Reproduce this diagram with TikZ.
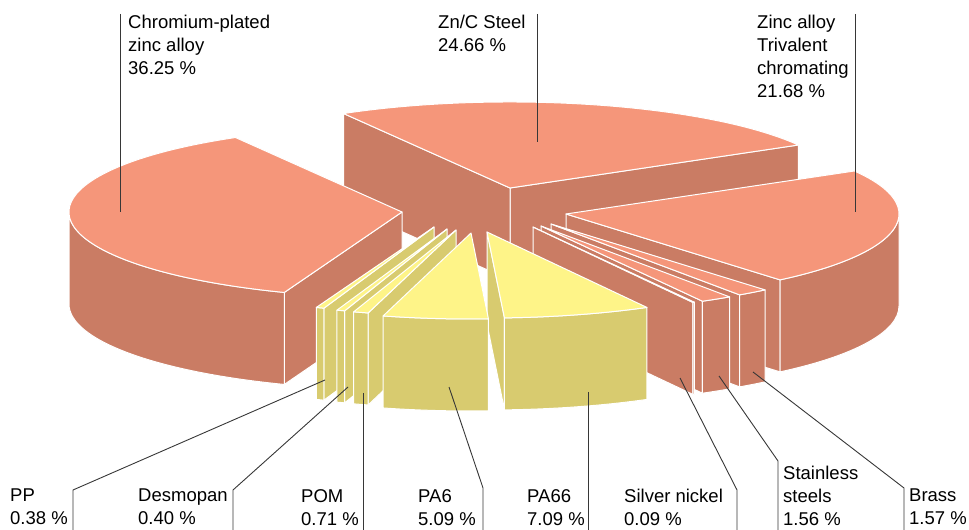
\documentclass[tikz,border=0pt]{standalone}
\usepackage{fontspec}
\setmainfont{Liberation Sans}
\usepackage{tikz}
\definecolor{salmontop}{RGB}{245,150,122}
\definecolor{salmonside}{RGB}{202,124,100}
\definecolor{yellowtop}{RGB}{254,244,136}
\definecolor{yellowside}{RGB}{216,203,111}
\definecolor{leadergray}{RGB}{55,55,55}
\tikzset{
  face/.style={draw=white, line width=1pt, line join=round},
  leader/.style={draw=leadergray, line width=0.9pt},
  label/.style={anchor=north west, inner sep=0pt, align=left,
    font=\fontsize{18.5}{23}\selectfont},
}
% one exploded slice: apex, start angle, end angle, top colour, side colour
\newcommand\pieslice[5]{%
  \pgfmathsetmacro\sa{max(#2,180)}%
  \pgfmathsetmacro\ea{min(#3,360)}%
  \pgfmathsetmacro\ba{#2+180}%
  \pgfmathsetmacro\bb{#3+180}%
  \pgfmathtruncatemacro\showstart{cos(#2)>0}%
  \pgfmathtruncatemacro\showend{cos(#3)<0}%
  \pgfmathtruncatemacro\showouter{\sa<\ea}%
  \ifnum\showstart=1
    \filldraw[face, fill=#5] (#1) -- ++(#2:333 and 86) -- ++(0,-92) -- ++(\ba:333 and 86) -- cycle;
  \fi
  \ifnum\showend=1
    \filldraw[face, fill=#5] (#1) -- ++(#3:333 and 86) -- ++(0,-92) -- ++(\bb:333 and 86) -- cycle;
  \fi
  \ifnum\showouter=1
    \filldraw[face, fill=#5] (#1) ++(\sa:333 and 86)
      arc[start angle=\sa, end angle=\ea, x radius=333, y radius=86] -- ++(0,-92)
      arc[start angle=\ea, end angle=\sa, x radius=333, y radius=86] -- cycle;
  \fi
  \filldraw[face, fill=#4] (#1) -- ++(#2:333 and 86)
    arc[start angle=#2, end angle=#3, x radius=333, y radius=86] -- cycle;
}

\begin{document}
\begin{tikzpicture}[x=1pt,y=1pt]
  \useasboundingbox (0,0) rectangle (969,530);
  \clip (0,0) rectangle (969,530);
  % apex of every slice
  \coordinate (znc) at (510,342);
  \coordinate (chrom) at (402,318);
  \coordinate (zinc) at (566,316);
  \coordinate (brass) at (551,306);
  \coordinate (stainless) at (541,304);
  \coordinate (silver) at (533,303);
  \coordinate (pa66) at (487,298);
  \coordinate (pa6) at (471,297);
  \coordinate (pom) at (456,300);
  \coordinate (desmo) at (447,301);
  \coordinate (pp) at (434,303);

  \pieslice{znc}{30}{120}{salmontop}{salmonside}
  \pieslice{chrom}{120}{249.3}{salmontop}{salmonside}
  \pieslice{zinc}{310}{390}{salmontop}{salmonside}
  \pieslice{brass}{304.5}{310}{salmontop}{salmonside}
  \pieslice{stainless}{299}{304.5}{salmontop}{salmonside}
  \pieslice{silver}{298.7}{299}{salmontop}{salmonside}
  \pieslice{pa66}{273}{298.7}{yellowtop}{yellowside}
  \pieslice{pp}{249.3}{250.7}{yellowtop}{yellowside}
  \pieslice{desmo}{250.7}{252.1}{yellowtop}{yellowside}
  \pieslice{pom}{252.1}{254.7}{yellowtop}{yellowside}
  \pieslice{pa6}{254.7}{273}{yellowtop}{yellowside}

  % labels
  \node[label] (chrom-lab) at (128,515.5) {Chromium-plated\\zinc alloy\\36.25 \%};
  \node[label] (znc-lab) at (438,515.5) {Zn/C Steel\\24.66 \%};
  \node[label] (zinc-lab) at (757,515.5) {Zinc alloy\\Trivalent\\chromating\\21.68 \%};
  \node[label] (pp-lab) at (10,41) {PP\\0.38 \%};
  \node[label] (desmo-lab) at (138,41) {Desmopan\\0.40 \%};
  \node[label] (pom-lab) at (301,41) {POM\\0.71 \%};
  \node[label] (pa6-lab) at (418,41) {PA6\\5.09 \%};
  \node[label] (pa66-lab) at (527,41) {PA66\\7.09 \%};
  \node[label] (silver-lab) at (624,41) {Silver nickel\\0.09 \%};
  \node[label] (stainless-lab) at (783,64) {Stainless\\steels\\1.56 \%};
  \node[label] (brass-lab) at (909,41) {Brass\\1.57 \%};

  % leader lines
  \coordinate (base) at (0,-2);
  \coordinate (chrom-top) at (120,516);
  \coordinate (chrom-pt) at (120,318);
  \coordinate (znc-top) at (537,516);
  \coordinate (znc-pt) at (537,388);
  \coordinate (zinc-top) at (855,516);
  \coordinate (zinc-pt) at (855,318);
  \draw[leader] (chrom-top) -- (chrom-pt);
  \draw[leader] (znc-top) -- (znc-pt);
  \draw[leader] (zinc-top) -- (zinc-pt);

  \coordinate (pp-pt) at (325,150);
  \coordinate (pp-bend) at (73,40);
  \coordinate (desmo-pt) at (348,143);
  \coordinate (desmo-bend) at (233,40);
  \coordinate (pom-pt) at (363,137);
  \coordinate (pa6-pt) at (449,143);
  \coordinate (pa6-bend) at (483,42);
  \coordinate (pa66-pt) at (588,138);
  \coordinate (silver-pt) at (680,152);
  \coordinate (silver-bend) at (737,40);
  \coordinate (stainless-pt) at (719,154);
  \coordinate (stainless-bend) at (778,69);
  \coordinate (brass-pt) at (753,158);
  \coordinate (brass-bend) at (904,42);
  \draw[leader] (pp-pt) -- (pp-bend) -- (pp-bend |- base);
  \draw[leader] (desmo-pt) -- (desmo-bend) -- (desmo-bend |- base);
  \draw[leader] (pom-pt) -- (pom-pt |- base);
  \draw[leader] (pa6-pt) -- (pa6-bend) -- (pa6-bend |- base);
  \draw[leader] (pa66-pt) -- (pa66-pt |- base);
  \draw[leader] (silver-pt) -- (silver-bend) -- (silver-bend |- base);
  \draw[leader] (stainless-pt) -- (stainless-bend) -- (stainless-bend |- base);
  \draw[leader] (brass-pt) -- (brass-bend) -- (brass-bend |- base);
\end{tikzpicture}
\end{document}
